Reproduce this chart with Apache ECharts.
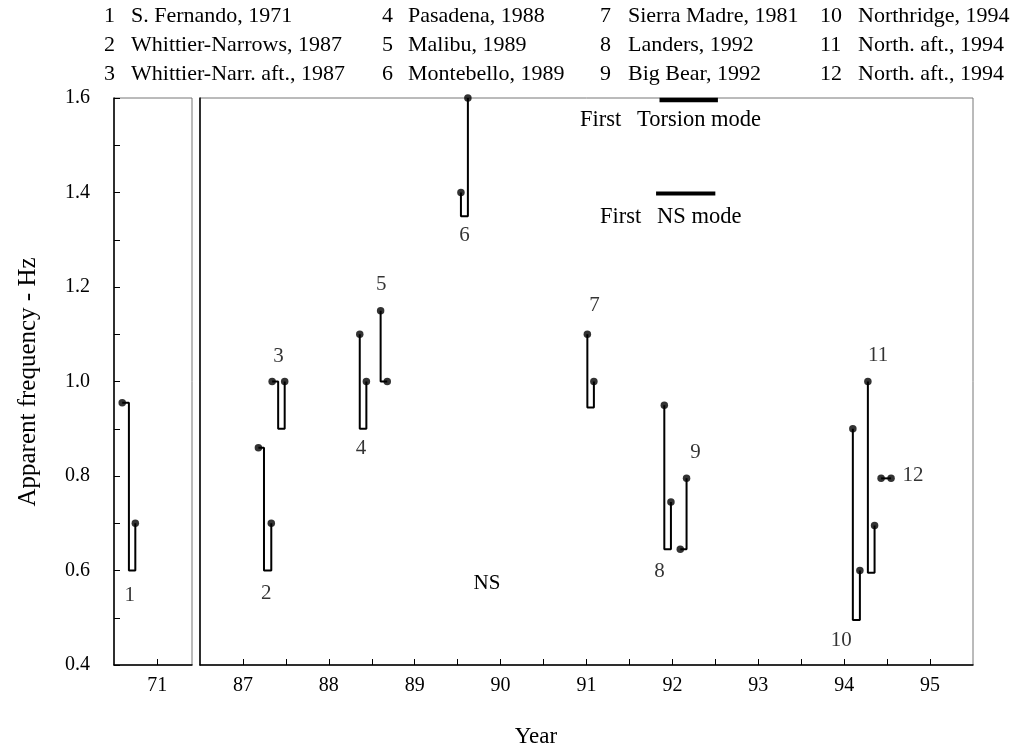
<!DOCTYPE html>
<html><head><meta charset="utf-8">
<script src="https://cdn.jsdelivr.net/npm/echarts@6.0.0/dist/echarts.min.js"></script>
<style>html,body{margin:0;padding:0;background:#fff}#c{width:1013px;height:751px}</style>
</head><body><div id="c"></div>
<script>
// ---------- data ----------
const eventNumbers = ['1','2','3','4','5','6','7','8','9','10','11','12'];
const eventNames = ['S. Fernando, 1971','Whittier-Narrows, 1987','Whittier-Narr. aft., 1987','Pasadena, 1988','Malibu, 1989','Montebello, 1989','Sierra Madre, 1981','Landers, 1992','Big Bear, 1992','Northridge, 1994','North. aft., 1994','North. aft., 1994'];
const eventPanel = [0,1,1,1,1,1,1,1,1,1,1,1];
// year position of first reading, step line, second reading
const xFirst  = [70.595, 87.18, 87.34, 88.36, 88.603, 89.538, 91.01, 91.906, 92.092, 94.101, 94.276, 94.43];
const xStep   = [70.672, 87.245, 87.41, 88.36, 88.603, 89.538, 91.01, 91.906, 92.165, 94.101, 94.276, 94.546];
const xSecond = [70.746, 87.33, 87.486, 88.437, 88.68, 89.619, 91.086, 91.983, 92.165, 94.183, 94.354, 94.546];
// apparent frequencies (Hz)
const vFirst  = [0.955, 0.86, 1.0, 1.1, 1.15, 1.4, 1.1, 0.95, 0.645, 0.9, 1.0, 0.795];
const vBase   = [0.6, 0.6, 0.9, 0.9, 1.0, 1.35, 0.945, 0.645, 0.645, 0.495, 0.595, 0.795];
const vSecond = [0.7, 0.7, 1.0, 1.0, 1.0, 1.6, 1.0, 0.745, 0.795, 0.6, 0.695, 0.795];
// mode reference bars
const torsionModeYears = [91.85, 92.53];
const torsionModeValue = 1.596;
const nsModeYears = [91.81, 92.5];
const nsModeValue = 1.398;
// axes
const yTickValues = [0.4,0.5,0.6,0.7,0.8,0.9,1.0,1.1,1.2,1.3,1.4,1.5,1.6];
const yLabelValues = [0.4,0.6,0.8,1.0,1.2,1.4,1.6];
const leftPanelTicks = [71];
const rightPanelTicks = [87,87.5,88,88.5,89,89.5,90,90.5,91,91.5,92,92.5,93,93.5,94,94.5,95];
const rightPanelLabels = [87,88,89,90,91,92,93,94,95];

// ---------- style (not data) ----------
const FONT = 'Liberation Serif';
const labelSide = ['below','below','above','below','above','below','above','below','above','below','above','right'];
const labelOffset = [[1,25],[1.5,23],[0,-25.5],[-2,20],[-2.6,-26.6],[0,19],[4,-29],[-8,22.5],[12,-26],[-15,20],[7,-26.5],[27,-2.7]];
const legendNumX = [104, 382, 600, 820];
const legendTextX = [131, 408, 628, 858];
const legendRowY = [16, 45, 74];

const series = [];
for (let i = 0; i < eventNumbers.length; i++) {
  const p = eventPanel[i];
  series.push({
    type: 'line', xAxisIndex: p, yAxisIndex: p, symbol: 'none', animation: false, z: 3,
    lineStyle: { color: '#000', width: 2 },
    data: [[xFirst[i], vFirst[i]], [xStep[i], vFirst[i]], [xStep[i], vBase[i]], [xSecond[i], vBase[i]], [xSecond[i], vSecond[i]]]
  });
  series.push({
    type: 'scatter', xAxisIndex: p, yAxisIndex: p, symbol: 'circle', symbolSize: 7.5, animation: false, z: 4,
    itemStyle: { color: '#000' },
    data: [[xFirst[i], vFirst[i]], [xSecond[i], vSecond[i]]]
  });
  const mid = (xFirst[i] + xSecond[i]) / 2;
  let anchorV = vBase[i];
  if (labelSide[i] === 'above') anchorV = Math.max(vFirst[i], vSecond[i]);
  if (labelSide[i] === 'right') anchorV = vSecond[i];
  series.push({
    type: 'scatter', xAxisIndex: p, yAxisIndex: p, symbolSize: 1, animation: false, z: 5, silent: true,
    itemStyle: { color: 'rgba(0,0,0,0)' },
    label: { show: true, position: 'inside', offset: labelOffset[i], formatter: eventNumbers[i],
      fontFamily: FONT, fontSize: 21, color: '#000' },
    data: [[mid, anchorV]]
  });
}
series.push({ type: 'line', xAxisIndex: 1, yAxisIndex: 1, symbol: 'none', animation: false, z: 3,
  lineStyle: { color: '#000', width: 4.5 },
  data: [[torsionModeYears[0], torsionModeValue], [torsionModeYears[1], torsionModeValue]] });
series.push({ type: 'line', xAxisIndex: 1, yAxisIndex: 1, symbol: 'none', animation: false, z: 3,
  lineStyle: { color: '#000', width: 4 },
  data: [[nsModeYears[0], nsModeValue], [nsModeYears[1], nsModeValue]] });

const txt = (x, y, text, extra) => ({ type: 'text', x, y, style: Object.assign({ text, fontFamily: FONT, fontSize: 22, fill: '#000', textVerticalAlign: 'middle' }, extra || {}) });
const graphics = [];
for (let i = 0; i < eventNumbers.length; i++) {
  const col = Math.floor(i / 3), row = i % 3;
  graphics.push(txt(legendNumX[col], legendRowY[row], eventNumbers[i]));
  graphics.push(txt(legendTextX[col], legendRowY[row], eventNames[i]));
}
graphics.push(txt(580, 120, 'First', { fontSize: 22.5 }));
graphics.push(txt(637, 120, 'Torsion mode', { fontSize: 22.5 }));
graphics.push(txt(600, 217, 'First', { fontSize: 22.5 }));
graphics.push(txt(657, 217, 'NS mode', { fontSize: 22.5 }));
graphics.push(txt(487, 583, 'NS', { fontSize: 21, textAlign: 'center' }));
graphics.push(txt(536, 737, 'Year', { fontSize: 23, textAlign: 'center' }));
graphics.push({ type: 'text', x: 28, y: 382, rotation: Math.PI / 2,
  style: { text: 'Apparent frequency - Hz', fontFamily: FONT, fontSize: 25, fill: '#000', textAlign: 'center', textVerticalAlign: 'middle' } });

const yAxisBase = {
  type: 'value', min: 0.4, max: 1.6,
  axisLine: { show: true, lineStyle: { color: '#000', width: 1.5 } },
  splitLine: { show: false }
};
const chart = echarts.init(document.getElementById('c'), null, { renderer: 'canvas' });
chart.setOption({
  backgroundColor: '#fff',
  animation: false,
  grid: [
    { left: 114, width: 78, top: 98, bottom: 86, show: true, borderColor: '#777', borderWidth: 1 },
    { left: 200, right: 40, top: 98, bottom: 86, show: true, borderColor: '#777', borderWidth: 1 }
  ],
  xAxis: [
    { gridIndex: 0, type: 'value', min: 70.5, max: 71.4,
      axisLine: { show: true, onZero: false, lineStyle: { color: '#000', width: 1.5 } },
      axisTick: { show: true, inside: true, length: 6, customValues: leftPanelTicks, lineStyle: { color: '#000', width: 1 } },
      axisLabel: { show: true, customValues: leftPanelTicks, formatter: v => String(v), fontFamily: FONT, fontSize: 20, color: '#000', margin: 11 },
      splitLine: { show: false } },
    { gridIndex: 1, type: 'value', min: 86.5, max: 95.5,
      axisLine: { show: true, onZero: false, lineStyle: { color: '#000', width: 1.5 } },
      axisTick: { show: true, inside: true, length: 6, customValues: rightPanelTicks, lineStyle: { color: '#000', width: 1 } },
      axisLabel: { show: true, customValues: rightPanelLabels, formatter: v => String(v), fontFamily: FONT, fontSize: 20, color: '#000', margin: 11 },
      splitLine: { show: false } }
  ],
  yAxis: [
    Object.assign({}, yAxisBase, { gridIndex: 0,
      axisTick: { show: true, inside: true, length: 6, customValues: yTickValues, lineStyle: { color: '#000', width: 1 } },
      axisLabel: { show: true, customValues: yLabelValues, formatter: v => v.toFixed(1), fontFamily: FONT, fontSize: 20, color: '#000', margin: 24 } }),
    Object.assign({}, yAxisBase, { gridIndex: 1, axisTick: { show: false }, axisLabel: { show: false } })
  ],
  series: series,
  graphic: graphics
});
</script></body></html>
